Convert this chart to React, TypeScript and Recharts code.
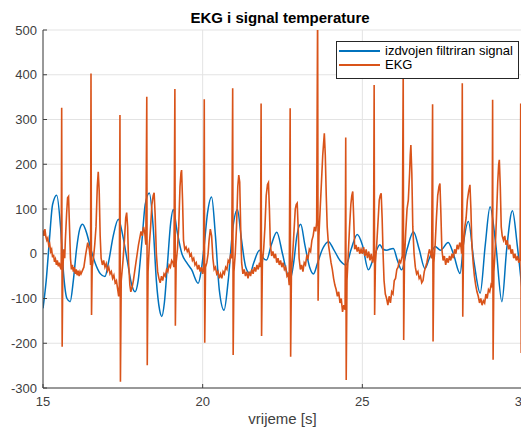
import React from 'react';
import { LineChart, Line, XAxis, YAxis, CartesianGrid, Legend } from 'recharts';

const chartTitle = 'EKG i signal temperature';
const xLabel = 'vrijeme [s]';
const seriesNames = ['izdvojen filtriran signal', 'EKG'];
const xTicks = [15, 20, 25, 30];
const yTicks = [-300, -200, -100, 0, 100, 200, 300, 400, 500];

// izdvojen filtriran signal: [time s, value]
const filteredPoints: [number, number][] = [
  [15.0, -122], [15.1, -60], [15.2, 30], [15.3, 110], [15.43, 131], [15.55, 60], [15.65, -50],
  [15.75, -100], [15.85, -107], [15.95, -60], [16.05, 10], [16.15, 55], [16.24, 66], [16.35, 50],
  [16.5, 10], [16.63, -20], [16.8, -45], [16.94, -51], [17.05, -20], [17.2, 40], [17.36, 77],
  [17.5, 40], [17.65, -20], [17.78, -70], [17.88, -85], [17.98, -60], [18.1, 30], [18.2, 110],
  [18.33, 136], [18.45, 60], [18.55, -60], [18.65, -125], [18.72, -140], [18.8, -110], [18.9, -20],
  [19.0, 70], [19.08, 99], [19.2, 50], [19.35, 0], [19.5, -20], [19.65, -35], [19.86, -66],
  [19.95, -40], [20.05, 20], [20.15, 90], [20.28, 127], [20.4, 40], [20.52, -80], [20.67, -126],
  [20.8, -60], [20.95, 60], [21.09, 99], [21.2, 40], [21.35, -30], [21.48, -44], [21.6, -20],
  [21.78, 8], [21.9, -10], [22.0, -14], [22.15, 20], [22.32, 48], [22.5, 0], [22.65, -45],
  [22.74, -57], [22.85, -20], [22.95, 40], [23.07, 66], [23.2, 20], [23.35, -30], [23.47, -45],
  [23.6, -20], [23.75, 10], [23.94, 27], [24.1, 10], [24.3, -15], [24.49, -25], [24.65, 10],
  [24.84, 43], [25.0, 20], [25.19, -36], [25.35, -10], [25.55, 20], [25.65, 10], [25.75, 8],
  [25.97, 12], [26.1, -15], [26.23, -36], [26.4, 10], [26.6, 49], [26.78, 10], [26.96, -33],
  [27.1, -10], [27.28, 16], [27.45, 8], [27.69, 25], [27.85, 0], [28.06, -44], [28.18, 30],
  [28.32, 72], [28.5, -20], [28.69, -88], [28.85, 20], [29.0, 105], [29.18, 20], [29.37, -107],
  [29.52, 10], [29.7, 96], [29.85, 20], [30.0, -80],
];

// EKG: [time s, value]
const ekgPoints: [number, number][] = [
  [15.0, 52], [15.03, 40], [15.06, 55], [15.09, 38], [15.12, 30], [15.15, 35], [15.18, 18],
  [15.21, 22], [15.24, 5], [15.27, 10], [15.3, -8], [15.33, -2], [15.36, -18], [15.39, -12],
  [15.42, -25], [15.45, -15], [15.48, -28], [15.51, -20], [15.54, -30], [15.57, -35],
  [15.585, 326], [15.6, -208], [15.62, -40], [15.65, 10], [15.68, -10], [15.7, 30], [15.74, 90],
  [15.77, 125], [15.8, 128], [15.83, 60], [15.86, -10], [15.89, -35], [15.92, -25], [15.95, -40],
  [15.98, -30], [16.01, -45], [16.04, -35], [16.07, -48], [16.1, -38], [16.13, -50], [16.16, -40],
  [16.19, -45], [16.22, -40], [16.28, -30], [16.34, 0], [16.4, 25], [16.45, 10], [16.48, -10],
  [16.49, -25], [16.503, 403], [16.52, -137], [16.54, -30], [16.58, -10], [16.62, 20], [16.66, 60],
  [16.7, 150], [16.73, 183], [16.76, 140], [16.79, 40], [16.82, -10], [16.86, -25], [16.9, -15],
  [16.94, -30], [16.98, -22], [17.02, -38], [17.06, -30], [17.1, -45], [17.14, -40], [17.18, -55],
  [17.22, -48], [17.26, -65], [17.3, -60], [17.34, -80], [17.37, -95], [17.39, -70],
  [17.41, 310], [17.425, -286], [17.45, -60], [17.5, -20], [17.55, 30], [17.59, 80], [17.62, 92],
  [17.65, 60], [17.68, -20], [17.72, -70], [17.75, -85], [17.79, -75], [17.83, -60], [17.87, -40],
  [17.91, -20], [17.95, 0], [17.99, 20], [18.03, 35], [18.07, 50], [18.11, 40], [18.15, 60],
  [18.19, 45], [18.22, 20], [18.25, 351], [18.265, -249], [18.29, -40], [18.33, 20], [18.37, 60],
  [18.41, 110], [18.45, 130], [18.48, 136], [18.51, 90], [18.55, 0], [18.59, -40], [18.63, -55],
  [18.67, -65], [18.71, -50], [18.75, -60], [18.79, -45], [18.83, -50], [18.87, -35], [18.91, -40],
  [18.95, -25], [18.99, -30], [19.03, -15], [19.07, -20], [19.1, -30], [19.13, 368],
  [19.145, -161], [19.17, -20], [19.21, 10], [19.25, 60], [19.29, 150], [19.32, 180], [19.34, 187],
  [19.37, 120], [19.4, 30], [19.44, 10], [19.48, 15], [19.52, 5], [19.56, 10], [19.6, -5],
  [19.64, 0], [19.68, -15], [19.72, -10], [19.76, -25], [19.8, -20], [19.84, -35], [19.88, -25],
  [19.92, -40], [19.96, -30], [20.0, -45], [20.03, -30], [20.05, 345], [20.065, -199],
  [20.09, -30], [20.13, -20], [20.17, 0], [20.2, 30], [20.24, 55], [20.28, 40], [20.32, -10],
  [20.36, -35], [20.4, -30], [20.44, -45], [20.48, -40], [20.52, -55], [20.56, -45], [20.6, -55],
  [20.64, -40], [20.68, -45], [20.72, -30], [20.76, -35], [20.8, -15], [20.84, -20], [20.88, 0],
  [20.91, -10], [20.94, 370], [20.955, -226], [20.98, -40], [21.02, 0], [21.06, 60], [21.1, 150],
  [21.13, 176], [21.16, 160], [21.19, 60], [21.22, -20], [21.26, -45], [21.3, -35], [21.34, -50],
  [21.38, -40], [21.42, -55], [21.46, -40], [21.5, -50], [21.54, -35], [21.58, -45], [21.62, -30],
  [21.66, -40], [21.7, -25], [21.74, -35], [21.78, -20], [21.81, -30], [21.83, 336],
  [21.845, -184], [21.87, -20], [21.91, 10], [21.95, 60], [21.99, 130], [22.03, 155], [22.06, 159],
  [22.09, 100], [22.12, 20], [22.16, -5], [22.2, 5], [22.24, -10], [22.28, 0], [22.32, -20],
  [22.36, -10], [22.4, -25], [22.44, -15], [22.48, -30], [22.52, -20], [22.56, -35], [22.6, -30],
  [22.64, -50], [22.68, -45], [22.71, -70], [22.74, 325], [22.755, -230], [22.78, -40], [22.82, 0],
  [22.86, 50], [22.9, 100], [22.93, 110], [22.96, 113], [22.99, 60], [23.02, -10], [23.06, -35],
  [23.1, -25], [23.14, -40], [23.18, -20], [23.22, -25], [23.26, -5], [23.3, -10], [23.34, 10],
  [23.38, 5], [23.42, 30], [23.46, 40], [23.5, 60], [23.54, 50], [23.57, 70], [23.6, 560],
  [23.615, -105], [23.64, 40], [23.68, 100], [23.72, 160], [23.76, 220], [23.79, 250],
  [23.81, 269], [23.84, 220], [23.87, 130], [23.9, 60], [23.94, 20], [23.98, 0], [24.02, -20],
  [24.06, -35], [24.1, -55], [24.14, -70], [24.18, -80], [24.22, -95], [24.26, -85], [24.3, -110],
  [24.34, -100], [24.38, -130], [24.42, -115], [24.46, -125], [24.48, 260], [24.495, -282],
  [24.52, -60], [24.56, 0], [24.6, 60], [24.64, 110], [24.67, 130], [24.7, 139], [24.73, 80],
  [24.76, 10], [24.8, 20], [24.84, 5], [24.88, 15], [24.92, 0], [24.96, 10], [25.0, 0],
  [25.04, 15], [25.08, -5], [25.12, 10], [25.16, -10], [25.2, 5], [25.24, -15], [25.28, 0],
  [25.32, -20], [25.35, -5], [25.37, 377], [25.385, -137], [25.41, -20], [25.45, 20], [25.49, 70],
  [25.53, 120], [25.56, 130], [25.59, 135], [25.62, 80], [25.65, 0], [25.68, -60], [25.72, -90],
  [25.76, -100], [25.8, -115], [25.84, -95], [25.88, -110], [25.92, -85], [25.96, -90],
  [26.0, -60], [26.04, -55], [26.08, -35], [26.12, -30], [26.16, -15], [26.2, -20], [26.25, -5],
  [26.28, 411], [26.295, -193], [26.32, -10], [26.36, 50], [26.4, 100], [26.44, 120], [26.48, 180],
  [26.5, 220], [26.52, 243], [26.55, 180], [26.58, 60], [26.62, 0], [26.66, -30], [26.7, -45],
  [26.74, -40], [26.78, -55], [26.82, -50], [26.86, -65], [26.9, -60], [26.94, -40], [26.98, -30],
  [27.02, -20], [27.06, -5], [27.1, 10], [27.14, 0], [27.17, -10], [27.2, 334], [27.215, -196],
  [27.24, -20], [27.28, 20], [27.32, 80], [27.36, 130], [27.4, 150], [27.43, 157], [27.46, 90],
  [27.49, 10], [27.53, -15], [27.57, -5], [27.61, -25], [27.65, -10], [27.69, -20], [27.73, -5],
  [27.77, -15], [27.81, 0], [27.85, -10], [27.89, 10], [27.93, 0], [27.97, 20], [28.01, 10],
  [28.05, 25], [28.09, 15], [28.11, 0], [28.13, 381], [28.145, -141], [28.17, 20], [28.21, 60],
  [28.25, 80], [28.29, 120], [28.33, 140], [28.37, 154], [28.4, 100], [28.43, 20], [28.47, -20],
  [28.51, -50], [28.55, -70], [28.59, -85], [28.63, -95], [28.67, -110], [28.71, -100],
  [28.75, -115], [28.79, -105], [28.83, -110], [28.87, -90], [28.91, -100], [28.95, -80],
  [28.99, -85], [29.03, -70], [29.06, -75], [29.08, 344], [29.095, -237], [29.12, -40],
  [29.16, 10], [29.2, 80], [29.24, 160], [29.27, 200], [29.29, 210], [29.32, 150], [29.35, 60],
  [29.38, 40], [29.42, 30], [29.46, 40], [29.5, 20], [29.54, 30], [29.58, 10], [29.62, 20],
  [29.66, 0], [29.7, 10], [29.74, -10], [29.78, 0], [29.82, -15], [29.86, -5], [29.9, -20],
  [29.94, -10], [29.96, 336], [29.975, -222], [29.99, -60], [30.0, -50],
];

const filteredData = filteredPoints.map(([t, v]) => ({ t, v }));
const ekgData = ekgPoints.map(([t, v]) => ({ t, v }));

const BLUE = '#0072BD';
const ORANGE = '#D95319';
const AXIS = '#404040';
const FONT = '"Liberation Sans", Arial, Helvetica, sans-serif';

const tickStyle = { fontSize: 13, fill: '#404040', fontFamily: FONT };

const LegendBox = () => (
  <div
    style={{
      border: '1px solid #262626',
      background: '#ffffff',
      width: 181,
      height: 36,
      fontFamily: FONT,
      fontSize: 13,
      color: '#000',
      position: 'relative',
    }}
  >
    {[BLUE, ORANGE].map((c, i) => (
      <div
        key={i}
        style={{ position: 'absolute', left: 2, top: 2 + i * 14, height: 14, display: 'flex', alignItems: 'center' }}
      >
        <div style={{ width: 41, height: 2, background: c }} />
        <span style={{ marginLeft: 5, whiteSpace: 'nowrap', lineHeight: '14px' }}>{seriesNames[i]}</span>
      </div>
    ))}
  </div>
);

export default function App() {
  return (
    <div style={{ position: 'relative', width: 521, height: 420, fontFamily: FONT }}>
      <div
        style={{
          position: 'absolute',
          left: 0,
          width: 544,
          top: 2,
          textAlign: 'center',
          fontWeight: 'bold',
          fontSize: 15,
          lineHeight: '16px',
          color: '#000',
          zIndex: 2,
        }}
      >
        {chartTitle}
      </div>
      <LineChart width={521} height={420} margin={{ top: 22, right: 7, left: 0, bottom: 0 }}>
        <CartesianGrid stroke="#e3e3e3" strokeWidth={1} />
        <XAxis
          dataKey="t"
          type="number"
          domain={[15, 30]}
          ticks={xTicks}
          allowDataOverflow
          height={40}
          tickSize={-4}
          tickMargin={13}
          stroke={AXIS}
          tick={tickStyle}
          label={{ value: xLabel, position: 'insideBottom', offset: 4, style: { fontSize: 15, fill: '#404040', fontFamily: FONT } }}
        />
        <XAxis
          xAxisId="top"
          orientation="top"
          dataKey="t"
          type="number"
          domain={[15, 30]}
          ticks={xTicks}
          height={0}
          tickSize={-4}
          stroke={AXIS}
          tickFormatter={() => ''}
        />
        <YAxis
          type="number"
          domain={[-300, 500]}
          ticks={yTicks}
          allowDataOverflow
          width={35}
          tickSize={-4}
          tickMargin={10}
          stroke={AXIS}
          tick={tickStyle}
        />
        <YAxis
          yAxisId="right"
          orientation="right"
          type="number"
          domain={[-300, 500]}
          ticks={yTicks}
          width={0}
          tickSize={-4}
          stroke={AXIS}
          tickFormatter={() => ''}
        />
        <Legend
          layout="horizontal"
          verticalAlign="middle"
          align="center"
          content={() => <LegendBox />}
          wrapperStyle={{ position: 'absolute', left: 328, top: 33, width: 'auto', height: 'auto' }}
        />
        <Line
          data={filteredData}
          dataKey="v"
          name={seriesNames[0]}
          type="monotone"
          stroke={BLUE}
          strokeWidth={1.5}
          dot={false}
          isAnimationActive={false}
        />
        <Line
          data={ekgData}
          dataKey="v"
          name={seriesNames[1]}
          type="linear"
          stroke={ORANGE}
          strokeWidth={1.6}
          dot={false}
          isAnimationActive={false}
        />
      </LineChart>
    </div>
  );
}
